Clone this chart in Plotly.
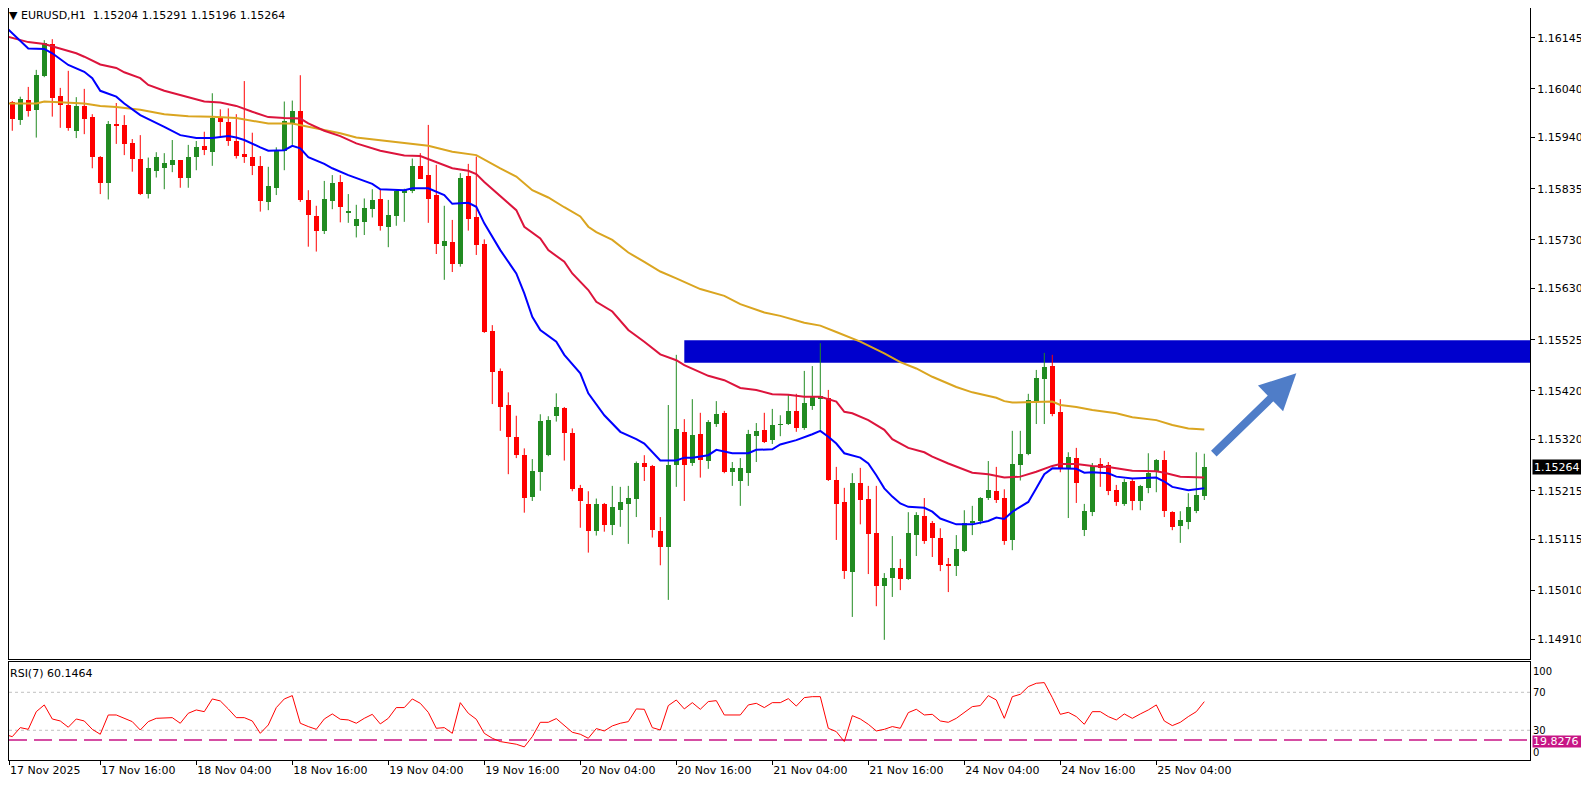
import plotly.graph_objects as go

# EURUSD H1, one value per bar (bar 0 = 17 Nov 04:00, last bar = 25 Nov 10:00)
opens = [1.16054, 1.16013, 1.15976, 1.16017, 1.15997, 1.16067, 1.16132, 1.16025, 1.16007, 1.15954,
         1.16005, 1.15983, 1.15900, 1.15847, 1.15968, 1.15966, 1.15929, 1.15897, 1.15824, 1.15872,
         1.15878, 1.15884, 1.15893, 1.15858, 1.15901, 1.15922, 1.15911, 1.15980, 1.15971, 1.15934,
         1.15906, 1.15900, 1.15882, 1.15808, 1.15837, 1.15913, 1.15969, 1.15995, 1.15812, 1.15780,
         1.15748, 1.15810, 1.15849, 1.15786, 1.15759, 1.15767, 1.15793, 1.15813, 1.15757, 1.15780,
         1.15828, 1.15831, 1.15882, 1.15863, 1.15822, 1.15718, 1.15726, 1.15680, 1.15862, 1.15778,
         1.15721, 1.15543, 1.15461, 1.15391, 1.15325, 1.15288, 1.15203, 1.15254, 1.15288, 1.15369,
         1.15384, 1.15334, 1.15221, 1.15188, 1.15133, 1.15188, 1.15145, 1.15175, 1.15188, 1.15198,
         1.15272, 1.15266, 1.15132, 1.15099, 1.15268, 1.15336, 1.15272, 1.15331, 1.15276, 1.15352,
         1.15375, 1.15253, 1.15235, 1.15251, 1.15327, 1.15340, 1.15319, 1.15350, 1.15352, 1.15379,
         1.15344, 1.15390, 1.15405, 1.15406, 1.15237, 1.15192, 1.15048, 1.15231, 1.15198, 1.15128,
         1.15020, 1.15036, 1.15056, 1.15034, 1.15124, 1.15163, 1.15149, 1.15118, 1.15065, 1.15060,
         1.15091, 1.15149, 1.15153, 1.15200, 1.15214, 1.15201, 1.15114, 1.15268, 1.15290, 1.15400,
         1.15444, 1.15471, 1.15377, 1.15262, 1.15282, 1.15134, 1.15171, 1.15270, 1.15268, 1.15216,
         1.15188, 1.15235, 1.15194, 1.15221, 1.15253, 1.15278, 1.15171, 1.15143, 1.15151, 1.15173,
         1.15204]
highs = [1.16058, 1.16015, 1.16024, 1.16044, 1.16079, 1.16140, 1.16142, 1.16042, 1.16077, 1.16023,
         1.16040, 1.15988, 1.15902, 1.15974, 1.16011, 1.15986, 1.15937, 1.15945, 1.15899, 1.15910,
         1.15908, 1.15935, 1.15894, 1.15925, 1.15933, 1.15952, 1.16031, 1.15998, 1.16000, 1.15988,
         1.16056, 1.15950, 1.15902, 1.15880, 1.15920, 1.16014, 1.16016, 1.16068, 1.15832, 1.15800,
         1.15851, 1.15863, 1.15863, 1.15824, 1.15802, 1.15815, 1.15834, 1.15834, 1.15812, 1.15834,
         1.15835, 1.15897, 1.15908, 1.15966, 1.15884, 1.15800, 1.15771, 1.15867, 1.15886, 1.15901,
         1.15731, 1.15555, 1.15466, 1.15417, 1.15369, 1.15302, 1.15280, 1.15372, 1.15368, 1.15415,
         1.15387, 1.15343, 1.15227, 1.15214, 1.15199, 1.15190, 1.15225, 1.15223, 1.15225, 1.15275,
         1.15288, 1.15268, 1.15161, 1.15391, 1.15494, 1.15362, 1.15403, 1.15375, 1.15360, 1.15399,
         1.15379, 1.15274, 1.15282, 1.15340, 1.15354, 1.15375, 1.15383, 1.15370, 1.15412, 1.15414,
         1.15461, 1.15471, 1.15518, 1.15422, 1.15264, 1.15221, 1.15251, 1.15262, 1.15225, 1.15225,
         1.15046, 1.15122, 1.15075, 1.15171, 1.15171, 1.15200, 1.15153, 1.15138, 1.15077, 1.15124,
         1.15175, 1.15184, 1.15202, 1.15276, 1.15264, 1.15218, 1.15338, 1.15338, 1.15414, 1.15463,
         1.15498, 1.15494, 1.15403, 1.15294, 1.15303, 1.15188, 1.15272, 1.15282, 1.15274, 1.15227,
         1.15239, 1.15239, 1.15227, 1.15292, 1.15280, 1.15297, 1.15173, 1.15173, 1.15210, 1.15294,
         1.15291]
lows = [1.16005, 1.15954, 1.15966, 1.15983, 1.15940, 1.16064, 1.15983, 1.15960, 1.15954, 1.15939,
        1.15947, 1.15877, 1.15824, 1.15813, 1.15927, 1.15904, 1.15870, 1.15822, 1.15815, 1.15858,
        1.15834, 1.15869, 1.15837, 1.15837, 1.15873, 1.15904, 1.15882, 1.15943, 1.15923, 1.15897,
        1.15888, 1.15863, 1.15788, 1.15791, 1.15822, 1.15873, 1.15925, 1.15808, 1.15716, 1.15706,
        1.15742, 1.15793, 1.15766, 1.15765, 1.15735, 1.15740, 1.15776, 1.15749, 1.15715, 1.15759,
        1.15767, 1.15826, 1.15855, 1.15765, 1.15701, 1.15648, 1.15664, 1.15675, 1.15749, 1.15699,
        1.15539, 1.15393, 1.15338, 1.15249, 1.15282, 1.15170, 1.15194, 1.15215, 1.15286, 1.15357,
        1.15277, 1.15214, 1.15139, 1.15088, 1.15123, 1.15131, 1.15124, 1.15141, 1.15106, 1.15161,
        1.15235, 1.15119, 1.15062, 1.14991, 1.15223, 1.15194, 1.15266, 1.15242, 1.15260, 1.15346,
        1.15251, 1.15225, 1.15184, 1.15225, 1.15274, 1.15313, 1.15311, 1.15327, 1.15350, 1.15336,
        1.15340, 1.15381, 1.15340, 1.15235, 1.15114, 1.15034, 1.14956, 1.15146, 1.15044, 1.14978,
        1.14909, 1.14997, 1.15011, 1.15032, 1.15081, 1.15106, 1.15079, 1.15050, 1.15007, 1.15040,
        1.15089, 1.15124, 1.15146, 1.15196, 1.15190, 1.15104, 1.15093, 1.15236, 1.15288, 1.15352,
        1.15352, 1.15368, 1.15253, 1.15159, 1.15190, 1.15122, 1.15163, 1.15223, 1.15206, 1.15184,
        1.15184, 1.15175, 1.15175, 1.15210, 1.15212, 1.15161, 1.15134, 1.15108, 1.15136, 1.15169,
        1.15196]
closes = [1.16011, 1.15978, 1.16019, 1.15995, 1.16068, 1.16134, 1.16022, 1.16007, 1.15959, 1.16005,
          1.15978, 1.15901, 1.15847, 1.15967, 1.15964, 1.15927, 1.15897, 1.15824, 1.15877, 1.15900,
          1.15888, 1.15893, 1.15858, 1.15900, 1.15921, 1.15914, 1.15980, 1.15971, 1.15934, 1.15902,
          1.15902, 1.15882, 1.15810, 1.15841, 1.15913, 1.15974, 1.15995, 1.15812, 1.15781, 1.15748,
          1.15814, 1.15846, 1.15798, 1.15789, 1.15773, 1.15795, 1.15812, 1.15759, 1.15781, 1.15831,
          1.15832, 1.15882, 1.15856, 1.15814, 1.15721, 1.15728, 1.15680, 1.15857, 1.15773, 1.15719,
          1.15541, 1.15459, 1.15387, 1.15326, 1.15288, 1.15201, 1.15255, 1.15358, 1.15360, 1.15387,
          1.15333, 1.15218, 1.15194, 1.15132, 1.15188, 1.15145, 1.15182, 1.15192, 1.15200, 1.15273,
          1.15264, 1.15134, 1.15099, 1.15268, 1.15342, 1.15268, 1.15329, 1.15278, 1.15356, 1.15372,
          1.15253, 1.15262, 1.15262, 1.15331, 1.15338, 1.15315, 1.15350, 1.15352, 1.15379, 1.15344,
          1.15395, 1.15407, 1.15409, 1.15237, 1.15188, 1.15050, 1.15231, 1.15196, 1.15126, 1.15020,
          1.15036, 1.15056, 1.15034, 1.15128, 1.15165, 1.15112, 1.15118, 1.15063, 1.15060, 1.15095,
          1.15149, 1.15153, 1.15200, 1.15216, 1.15196, 1.15112, 1.15270, 1.15290, 1.15401, 1.15446,
          1.15469, 1.15372, 1.15262, 1.15284, 1.15231, 1.15173, 1.15266, 1.15262, 1.15214, 1.15192,
          1.15233, 1.15194, 1.15225, 1.15251, 1.15278, 1.15173, 1.15141, 1.15156, 1.15182, 1.15206,
          1.15264]

rsi7 = [25.8, 23.3, 32.8, 31.0, 49.6, 56.7, 41.9, 39.8, 33.2, 41.9,
        39.8, 31.0, 25.8, 46.1, 46.1, 42.6, 39.1, 30.3, 39.1, 42.6,
        43.3, 43.3, 37.4, 47.9, 51.4, 49.6, 63.0, 60.9, 52.5, 43.3,
        43.3, 39.8, 26.8, 35.6, 53.9, 63.0, 66.5, 37.4, 33.9, 31.0,
        41.9, 47.2, 41.6, 40.9, 37.4, 42.6, 46.8, 36.7, 42.6, 53.9,
        53.9, 63.0, 58.4, 48.9, 32.1, 32.8, 26.8, 59.1, 47.9, 41.6,
        26.8, 21.6, 18.1, 17.0, 15.3, 12.5, 23.3, 38.4, 38.4, 42.3,
        34.9, 27.9, 25.8, 21.6, 31.8, 29.3, 34.6, 37.4, 39.1, 52.5,
        52.1, 32.8, 30.3, 56.0, 61.9, 52.5, 59.1, 52.1, 60.2, 61.2,
        46.1, 46.1, 46.1, 56.7, 58.4, 53.9, 59.1, 59.1, 63.3, 55.5,
        64.4, 65.4, 65.4, 32.1, 28.6, 18.1, 45.4, 41.9, 36.3, 29.3,
        31.0, 33.9, 32.1, 48.6, 52.1, 46.1, 46.8, 39.8, 38.4, 42.6,
        48.6, 54.9, 56.0, 66.5, 61.9, 42.6, 65.4, 67.9, 76.0, 79.5,
        80.2, 64.4, 46.8, 48.9, 44.4, 36.3, 49.6, 49.6, 44.4, 40.9,
        47.2, 42.6, 47.2, 51.4, 56.7, 39.8, 34.9, 38.4, 44.4, 49.6,
        60.1464]

# moving averages, read at selected bars
ma_fast_bars = [0, 2, 3, 5, 6, 8, 10, 11, 12, 14, 15, 17, 19, 20, 22, 24, 26, 28, 29, 30,
                32, 33, 35, 36, 37, 38, 40, 41, 43, 45, 46, 47, 50, 51, 53, 55, 56, 58, 59, 60,
                62, 64, 65, 66, 67, 69, 70, 72, 73, 75, 77, 79, 80, 82, 84, 85, 86, 88, 89, 91,
                93, 94, 96, 97, 99, 101, 102, 103, 104, 105, 107, 108, 109, 110, 111, 112, 113, 115, 116, 117,
                119, 121, 123, 124, 125, 126, 128, 129, 130, 131, 134, 135, 136, 138, 139, 141, 144, 145, 146, 148,
                149, 150]
ma_fast = [1.16170, 1.16140, 1.16123, 1.16122, 1.16113, 1.16089, 1.16075, 1.16062, 1.16036, 1.16024,
           1.16010, 1.15986, 1.15971, 1.15962, 1.15945, 1.15939, 1.15939, 1.15943, 1.15940, 1.15935,
           1.15920, 1.15913, 1.15914, 1.15923, 1.15918, 1.15900, 1.15886, 1.15877, 1.15863, 1.15851,
           1.15845, 1.15834, 1.15832, 1.15836, 1.15836, 1.15822, 1.15804, 1.15806, 1.15798, 1.15764,
           1.15709, 1.15661, 1.15620, 1.15572, 1.15545, 1.15521, 1.15494, 1.15456, 1.15415, 1.15370,
           1.15336, 1.15321, 1.15312, 1.15277, 1.15277, 1.15283, 1.15283, 1.15288, 1.15299, 1.15292,
           1.15292, 1.15299, 1.15300, 1.15310, 1.15319, 1.15331, 1.15338, 1.15326, 1.15312, 1.15292,
           1.15283, 1.15271, 1.15247, 1.15220, 1.15203, 1.15189, 1.15182, 1.15180, 1.15172, 1.15158,
           1.15146, 1.15146, 1.15153, 1.15160, 1.15157, 1.15172, 1.15192, 1.15220, 1.15249, 1.15261,
           1.15260, 1.15252, 1.15253, 1.15251, 1.15244, 1.15240, 1.15242, 1.15234, 1.15223, 1.15216,
           1.15218, 1.15220]

ma_mid_bars = [0, 3, 5, 7, 9, 10, 12, 14, 15, 17, 18, 20, 23, 25, 27, 29, 31, 33, 35, 37,
               38, 40, 42, 44, 47, 50, 52, 54, 56, 58, 59, 60, 62, 64, 65, 67, 68, 70, 71, 73,
               74, 76, 78, 80, 82, 84, 85, 87, 88, 90, 92, 94, 96, 98, 100, 102, 104, 105, 106, 108,
               110, 111, 113, 115, 116, 118, 120, 121, 123, 125, 127, 129, 131, 132, 134, 136, 138, 140, 141, 144,
               145, 147, 150]
ma_mid = [1.16149, 1.16136, 1.16132, 1.16123, 1.16113, 1.16106, 1.16090, 1.16083, 1.16074, 1.16062,
          1.16048, 1.16036, 1.16022, 1.16014, 1.16012, 1.16005, 1.15993, 1.15982, 1.15980, 1.15979,
          1.15969, 1.15954, 1.15943, 1.15928, 1.15913, 1.15903, 1.15902, 1.15890, 1.15877, 1.15872,
          1.15865, 1.15849, 1.15820, 1.15791, 1.15757, 1.15733, 1.15709, 1.15685, 1.15661, 1.15627,
          1.15603, 1.15583, 1.15545, 1.15521, 1.15495, 1.15483, 1.15473, 1.15459, 1.15451, 1.15442,
          1.15426, 1.15422, 1.15413, 1.15412, 1.15408, 1.15408, 1.15398, 1.15377, 1.15374, 1.15360,
          1.15340, 1.15321, 1.15303, 1.15294, 1.15285, 1.15271, 1.15258, 1.15252, 1.15249, 1.15242,
          1.15244, 1.15254, 1.15266, 1.15270, 1.15270, 1.15266, 1.15264, 1.15259, 1.15256, 1.15255,
          1.15252, 1.15244, 1.15242]

ma_slow_bars = [0, 4, 5, 8, 10, 12, 14, 17, 20, 23, 26, 29, 31, 33, 36, 38, 40, 42, 44, 47,
                50, 53, 56, 59, 62, 64, 66, 68, 70, 72, 73, 74, 76, 78, 80, 82, 84, 87, 90, 92,
                95, 97, 100, 102, 104, 106, 107, 110, 112, 114, 116, 119, 121, 124, 125, 126, 131, 132, 134, 136,
                139, 141, 144, 146, 148, 150]
ma_slow = [1.16010, 1.16010, 1.16014, 1.16012, 1.16010, 1.16005, 1.16003, 1.15997, 1.15988, 1.15984,
           1.15983, 1.15980, 1.15975, 1.15969, 1.15969, 1.15962, 1.15956, 1.15949, 1.15940, 1.15934,
           1.15928, 1.15923, 1.15911, 1.15904, 1.15877, 1.15860, 1.15832, 1.15817, 1.15797, 1.15778,
           1.15757, 1.15746, 1.15730, 1.15704, 1.15685, 1.15665, 1.15651, 1.15629, 1.15615, 1.15598,
           1.15581, 1.15574, 1.15560, 1.15554, 1.15541, 1.15528, 1.15521, 1.15497, 1.15479, 1.15466,
           1.15449, 1.15428, 1.15417, 1.15406, 1.15399, 1.15396, 1.15398, 1.15391, 1.15387, 1.15381,
           1.15374, 1.15366, 1.15360, 1.15350, 1.15343, 1.15341]

price_ticks = [1.16145, 1.16040, 1.15940, 1.15835, 1.15730, 1.15630, 1.15525,
               1.15420, 1.15320, 1.15215, 1.15115, 1.15010, 1.14910]
time_labels = ["17 Nov 2025", "17 Nov 16:00", "18 Nov 04:00", "18 Nov 16:00", "19 Nov 04:00",
               "19 Nov 16:00", "20 Nov 04:00", "20 Nov 16:00", "21 Nov 04:00", "21 Nov 16:00",
               "24 Nov 04:00", "24 Nov 16:00", "25 Nov 04:00"]

# resistance zone and arrow
zone_start_bar = 85
zone_top = 1.15524
zone_bottom = 1.15478
arrow_from = (151, 1.15288)
arrow_to = (161.5, 1.15456)

rsi_levels = [30, 70]
rsi_marker = 19.8276

UP = "#228B22"
DOWN = "#FF0000"
FONT = "DejaVu Sans"
X_RANGE = [0.59, 190.71]

bars = list(range(len(closes)))
is_up = [c >= o for o, c in zip(opens, closes)]
# first date label is pinned to the left edge, like the terminal does
tick_pos = [max(i, X_RANGE[0]) for i in range(0, len(closes), 12)]

fig = go.Figure()

# wicks
for flag, col in ((True, UP), (False, DOWN)):
    wx, wy = [], []
    for i in bars:
        if is_up[i] == flag:
            wx += [i, i, None]
            wy += [highs[i], lows[i], None]
    fig.add_trace(go.Scatter(x=wx, y=wy, mode="lines", line=dict(color=col, width=1),
                             hoverinfo="skip", xaxis="x", yaxis="y"))

# bodies
fig.add_trace(go.Bar(
    x=bars,
    y=[max(abs(c - o), 0.00002) for o, c in zip(opens, closes)],
    base=[min(o, c) for o, c in zip(opens, closes)],
    width=0.62,
    marker=dict(color=[UP if u else DOWN for u in is_up], line=dict(width=0)),
    xaxis="x", yaxis="y"))

fig.add_trace(go.Scatter(x=ma_slow_bars, y=ma_slow, mode="lines",
                         line=dict(color="#DAA520", width=2), xaxis="x", yaxis="y"))
fig.add_trace(go.Scatter(x=ma_mid_bars, y=ma_mid, mode="lines",
                         line=dict(color="#DC143C", width=2), xaxis="x", yaxis="y"))
fig.add_trace(go.Scatter(x=ma_fast_bars, y=ma_fast, mode="lines",
                         line=dict(color="#0000FF", width=2), xaxis="x", yaxis="y"))

fig.add_trace(go.Scatter(x=bars, y=rsi7, mode="lines",
                         line=dict(color="#FF0000", width=1), xaxis="x2", yaxis="y2"))

shapes = [dict(type="rect", xref="x", yref="y", x0=zone_start_bar, x1=X_RANGE[1],
               y0=zone_bottom, y1=zone_top, fillcolor="#0000CD", line=dict(width=0), layer="below")]
for lv in rsi_levels:
    shapes.append(dict(type="line", xref="paper", yref="y2", x0=0, x1=1, y0=lv, y1=lv,
                       line=dict(color="#C0C0C0", width=1, dash="3px,3px"), layer="below"))
shapes.append(dict(type="line", xref="paper", yref="y2", x0=0, x1=1, y0=rsi_marker, y1=rsi_marker,
                   line=dict(color="#C71585", width=1.5, dash="18px,7px"), layer="below"))

annotations = [
    dict(xref="paper", yref="paper", x=0, y=1, xanchor="left", yanchor="top", xshift=-2, yshift=1,
         showarrow=False, align="left",
         text="▼ EURUSD,H1  %.5f %.5f %.5f %.5f" % (opens[-1], highs[-1], lows[-1], closes[-1]),
         font=dict(family=FONT, size=11, color="black")),
    dict(xref="paper", yref="y2 domain", x=0, y=1, xanchor="left", yanchor="top", xshift=-1, yshift=-3,
         showarrow=False, text="RSI(7) %.4f" % rsi7[-1],
         font=dict(family=FONT, size=11, color="black")),
    dict(xref="paper", yref="y", x=1, y=closes[-1], xanchor="left", yanchor="middle", xshift=2,
         showarrow=False, text="%.5f" % closes[-1], bgcolor="black", borderpad=1,
         width=54, height=12, align="left", font=dict(family=FONT, size=11, color="white")),
    dict(xref="paper", yref="y2", x=1, y=rsi_marker, xanchor="left", yanchor="middle", xshift=2,
         yshift=-1.5, showarrow=False, text="%.4f" % rsi_marker, bgcolor="#C71585", borderpad=0,
         width=56, height=11, align="left", font=dict(family=FONT, size=11, color="white")),
    dict(xref="x", yref="y", x=arrow_to[0], y=arrow_to[1], axref="x", ayref="y",
         ax=arrow_from[0], ay=arrow_from[1], text="", showarrow=True, arrowhead=2,
         arrowsize=0.9, arrowwidth=8, arrowcolor="#4F7DC8"),
]

axis_common = dict(showgrid=False, zeroline=False, showline=True, mirror=True,
                   linecolor="black", linewidth=1)

# the page adds an 8px body margin, so the figure is 8px smaller than the window
fig.update_layout(
    width=1581, height=778,
    margin=dict(l=1, r=59, t=0, b=26),
    paper_bgcolor="white", plot_bgcolor="white",
    showlegend=False, barmode="overlay", bargap=0,
    font=dict(family=FONT, size=11, color="black"),
    xaxis=dict(domain=[0, 1], anchor="y", range=X_RANGE, showticklabels=False, ticks="",
               **axis_common),
    yaxis=dict(domain=[0.1339, 1], anchor="x", range=[1.14869, 1.16206], side="right",
               tickvals=price_ticks, ticktext=["%.5f" % v for v in price_ticks],
               ticks="outside", ticklen=4, tickcolor="black", **axis_common),
    xaxis2=dict(domain=[0, 1], anchor="y2", matches="x",
                tickvals=tick_pos, ticktext=time_labels,
                ticks="outside", ticklen=4, tickcolor="black",
                ticklabelposition="outside right", **axis_common),
    yaxis2=dict(domain=[0, 0.1307], anchor="x2", range=[-1.3, 102.2], side="right",
                tickvals=[6.4, 30, 70, 92.1], ticktext=["0", "30", "70", "100"],
                tickfont=dict(size=10), ticks="", **axis_common),
    shapes=shapes,
    annotations=annotations,
)

fig.write_html("out.html")
